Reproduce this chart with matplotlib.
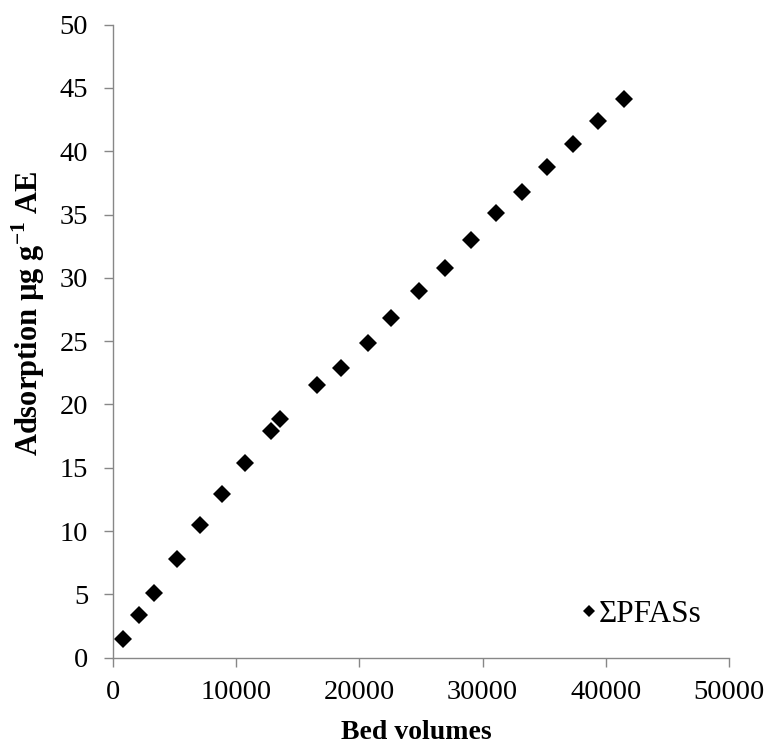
import matplotlib
matplotlib.use("Agg")
import matplotlib.pyplot as plt

bed_volumes = [860, 2130, 3320, 5190, 7050, 8890, 10750, 12840, 13590, 16570,
               18510, 20700, 22570, 24860, 26950, 29030, 31110, 33170, 35240,
               37330, 39380, 41490]
adsorption = [1.45, 3.35, 5.13, 7.82, 10.46, 12.93, 15.38, 17.93, 18.83, 21.54,
              22.88, 24.86, 26.86, 28.94, 30.78, 32.99, 35.13, 36.79, 38.74,
              40.55, 42.39, 44.13]
series_label = "ΣPFASs"
x_ticks = [0, 10000, 20000, 30000, 40000, 50000]
y_ticks = list(range(0, 51, 5))

plt.rcParams['font.family'] = ['Liberation Serif', 'DejaVu Serif']
plt.rcParams['mathtext.fontset'] = 'custom'
plt.rcParams['mathtext.rm'] = 'Liberation Serif'
plt.rcParams['mathtext.bf'] = 'Liberation Serif:bold'

fig = plt.figure(figsize=(7.69, 7.46), dpi=100)
ax = fig.add_axes([0.1466, 0.1184, 0.8018, 0.8485])

ax.plot(bed_volumes, adsorption, linestyle='none', marker='D', markersize=8.9,
        color='black', markeredgewidth=0, label=series_label)

ax.set_xlim(0, 50000)
ax.set_ylim(0, 50)
ax.set_xticks(x_ticks)
ax.set_yticks(y_ticks)
ax.tick_params(axis='both', labelsize=20.5, colors='#878787', labelcolor='black',
               length=6.2, width=1.0, direction='out')
ax.tick_params(axis='y', pad=11.5)
ax.tick_params(axis='x', pad=10)
for s in ['top', 'right']:
    ax.spines[s].set_visible(False)
for s in ['left', 'bottom']:
    ax.spines[s].set_color('#878787')
    ax.spines[s].set_linewidth(1.0)

ax.set_xlabel('Bed volumes', fontsize=20, fontweight='bold', va='top')
ax.xaxis.set_label_coords(0.4927, -0.099)
ax.set_ylabel(r'Adsorption µg g$^{\mathbf{-1}}$ AE', fontsize=22, fontweight='bold')
ax.yaxis.set_label_coords(-0.106, 0.5446)

leg = ax.legend(loc='center left', frameon=False, fontsize=22.5, handlelength=0.45,
                handletextpad=0.1, markerscale=0.68, borderaxespad=0, borderpad=0,
                bbox_to_anchor=(0.7606, 0.068))

fig.savefig('out.png', dpi=100)
